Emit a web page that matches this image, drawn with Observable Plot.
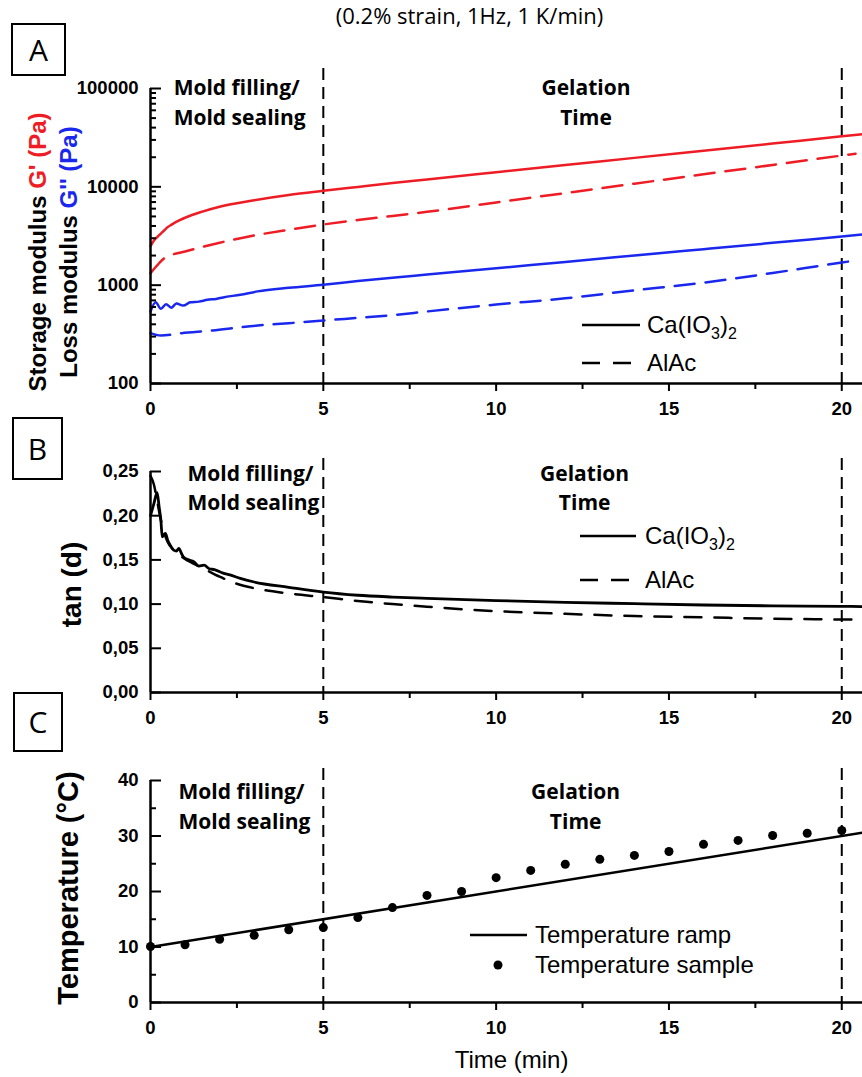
<!DOCTYPE html>
<html><head><meta charset="utf-8">
<script src="https://cdn.jsdelivr.net/npm/d3@7"></script>
<script src="https://cdn.jsdelivr.net/npm/@observablehq/plot@0.6"></script>
<style>
body{margin:0;background:#fff;}
#wrap{position:relative;width:862px;height:1077px;overflow:hidden;background:#fff;color:#000;}
#wrap svg{position:absolute;left:0;overflow:visible;background:transparent;}
.box{position:absolute;border:2.5px solid #000;box-sizing:border-box;font-family:'Open Sans',sans-serif;font-size:30px;line-height:1;display:flex;align-items:center;justify-content:center;z-index:5;}
</style></head><body><div id="wrap"></div>
<script>
// ---------- data ----------
const xTicksMajor = [0, 5, 10, 15, 20];
const xTicksMinor = [2.5, 7.5, 12.5, 17.5];
const phaseLines = [5, 20];

// Panel A: G' and G'' (Pa)
const yTicksA = [100, 1000, 10000, 100000];
const yMinorA = [200,300,400,500,600,700,800,900,2000,3000,4000,5000,6000,7000,8000,9000,20000,30000,40000,50000,60000,70000,80000,90000];
const tGpCa = [0,0.1,0.2,0.3,0.4,0.5,0.6,0.8,1,1.5,2,3,4,5,6,7,8,10,12,14,16,18,20,20.6];
const gpCa  = [2500,2850,3100,3350,3620,3900,4100,4500,4850,5600,6280,7300,8250,9100,9980,10930,11900,14080,16650,19700,23290,27550,32600,34280];
const tGpAl = [0,0.1,0.2,0.3,0.4,0.6,0.8,1,1.5,2,3,4,5,6,7,8,10,12,14,16,18,20,20.4];
const gpAl  = [1320,1460,1600,1750,1880,2030,2120,2200,2450,2700,3200,3660,4140,4600,5050,5570,6940,8640,10770,13410,16700,20800,21700];
const tGppCa = [0,0.15,0.3,0.45,0.6,0.75,0.95,1.15,1.4,1.65,1.9,2.1,2.6,3.1,4,5,6,7,8,10,12,14,16,18,20,20.6];
const gppCa  = [540,670,575,640,590,650,620,670,680,710,725,750,800,865,940,1010,1100,1190,1281,1486,1725,2001,2321,2693,3127,3270];
const tGppAl = [0,0.3,0.9,1.8,2.6,3.1,4,5,6,7,8,10,12,14,16,18,20,20.4];
const gppAl  = [325,307,325,346,373,389,410,437,465,495,540,635,735,885,1060,1330,1700,1780];

// Panel B: tan (d)
const yTicksB = [0, 0.05, 0.10, 0.15, 0.20, 0.25];
const tTanCa = [0,0.1,0.19,0.25,0.3,0.34,0.43,0.5,0.58,0.67,0.75,0.82,0.9,0.96,1.1,1.25,1.4,1.55,1.7,1.85,2.1,2.3,2.6,3,4,5,6,7,8,10,12,14,16,18,20,20.6];
const tanCa  = [0.200,0.214,0.226,0.210,0.195,0.176,0.180,0.172,0.166,0.161,0.160,0.163,0.157,0.153,0.150,0.148,0.143,0.144,0.140,0.139,0.135,0.133,0.129,0.125,0.119,0.1135,0.110,0.108,0.1065,0.104,0.102,0.1005,0.099,0.098,0.0975,0.0972];
const tTanAl = [0,0.1,0.2,0.3,0.4,0.5,0.7,1,1.5,2,2.5,3,4,5,6,7,8,10,12,14,16,18,20,20.6];
const tanAl  = [0.245,0.235,0.215,0.195,0.180,0.170,0.160,0.151,0.141,0.131,0.123,0.118,0.112,0.108,0.1035,0.100,0.097,0.092,0.089,0.0865,0.085,0.0835,0.0826,0.0823];

// Panel C: temperature (°C)
const yTicksC = [0, 10, 20, 30, 40];
const yMinorC = [5, 15, 25, 35];
const rampT = [0, 20.6];
const rampTemp = [10, 30.6];
const sampleT = [0,1,2,3,4,5,6,7,8,9,10,11,12,13,14,15,16,17,18,19,20];
const sampleTemp = [10.1,10.4,11.4,12.1,13.1,13.5,15.3,17.1,19.3,20.0,22.5,23.8,24.9,25.8,26.5,27.2,28.5,29.2,30.1,30.5,31.0];

// annotations
const moldLabel = "Mold filling/\nMold sealing";
const gelLabel = "Gelation\nTime";
const moldT = {A: 0.67, B: 1.07, C: 0.81};
const gelT = {A: 12.6, B: 12.56, C: 12.3};

// ---------- layout ----------
const W = 862, ML = 150, MR = 0;
const xDomain = [0, 20.6];
const pxPerMin = (W - ML - MR) / (xDomain[1] - xDomain[0]);
const RED = "#ee1c24", BLUE = "#1a28ee";
const sans = "'Liberation Sans', Arial, sans-serif";
const calib = "'Open Sans', sans-serif";
const tickFont = {fontSize: 18.5, fontWeight: "bold", fontFamily: sans};
const series = (t, v) => t.map((tt, i) => ({t: tt, v: v[i]}));

function xAxisMarks() {
  return [
    Plot.axisX(xTicksMajor, {tickSize: 8, tickPadding: 10, strokeWidth: 2, label: null, ...tickFont, tickFormat: d => String(d)}),
    Plot.axisX(xTicksMinor, {tickSize: 6, strokeWidth: 2, label: null, tickFormat: () => ""})
  ];
}
const inward = (ticks, len) => Plot.ruleY(ticks, {x1: 0, x2: len / pxPerMin, strokeWidth: 2});

function noteMarks(panel, dy) {
  return [
    Plot.text([moldLabel], {x: [moldT[panel]], frameAnchor: "top", dy, textAnchor: "start", lineAnchor: "middle", lineHeight: 1.4, fontFamily: calib, fontWeight: "bold", fontSize: 21}),
    Plot.text([gelLabel], {x: [gelT[panel]], frameAnchor: "top", dy, textAnchor: "middle", lineAnchor: "middle", lineHeight: 1.4, fontFamily: calib, fontWeight: "bold", fontSize: 21})
  ];
}

function legend(entries, {top, x0, x1, xText}) {
  return () => {
    const g = d3.create("svg:g").attr("font-family", sans).attr("font-size", 24).attr("fill", "black").attr("text-anchor", "start");
    for (const e of entries) {
      const y = e.y - top;
      if (e.kind === "dot") {
        g.append("circle").attr("cx", e.cx).attr("cy", y).attr("r", 4.5).attr("fill", "black");
      } else {
        g.append("line").attr("x1", x0).attr("x2", x1).attr("y1", y).attr("y2", y)
          .attr("stroke", "black").attr("stroke-width", 2.5)
          .attr("stroke-dasharray", e.kind === "dash" ? "18,13" : null);
      }
      const t = g.append("text").attr("x", xText).attr("y", y + 8).attr("text-anchor", "start");
      for (const [s, sub] of e.parts) {
        const ts = t.append("tspan").text(s);
        if (sub === 1) ts.attr("dy", 6).attr("font-size", 16);
        if (sub === -1) ts.attr("dy", -6);
      }
    }
    return g.node();
  };
}
const caParts = [["Ca(IO"], ["3", 1], [")", -1], ["2", 1]];

// ---------- Panel A ----------
const plotA = Plot.plot({
  width: W, height: 415, marginLeft: ML, marginRight: MR, marginTop: 88, marginBottom: 32,
  x: {domain: xDomain, label: null},
  y: {type: "log", domain: [100, 100000], label: null},
  marks: [
    Plot.text(["(0.2% strain, 1Hz, 1 K/min)"], {frameAnchor: "top", dx: -37, dy: -65, lineAnchor: "bottom", fontFamily: calib, fontSize: 22}),
    Plot.ruleX(phaseLines, {strokeWidth: 2, strokeDasharray: "12,7", insetTop: -20}),
    Plot.line(series(tGpCa, gpCa), {x: "t", y: "v", stroke: RED, strokeWidth: 2.5, curve: "monotone-x"}),
    Plot.line(series(tGpAl, gpAl), {x: "t", y: "v", stroke: RED, strokeWidth: 2.5, strokeDasharray: "20,11", curve: "monotone-x"}),
    Plot.line(series(tGppCa, gppCa), {x: "t", y: "v", stroke: BLUE, strokeWidth: 2.5, curve: "monotone-x"}),
    Plot.line(series(tGppAl, gppAl), {x: "t", y: "v", stroke: BLUE, strokeWidth: 2.5, strokeDasharray: "20,11", curve: "monotone-x"}),
    Plot.axisY(yTicksA, {tickSize: 0, tickPadding: 12, label: null, ...tickFont, tickFormat: d => String(d)}),
    inward(yTicksA, 11),
    inward(yMinorA, 6),
    ...xAxisMarks(),
    Plot.ruleX([0], {strokeWidth: 2.5}),
    Plot.ruleY([100], {strokeWidth: 2.5}),
    ...noteMarks("A", 12),
    legend([{kind: "solid", y: 325, parts: caParts}, {kind: "dash", y: 363, parts: [["AlAc"]]}], {top: 0, x0: 582, x1: 640, xText: 647}),
    () => {
      const g = d3.create("svg:g").attr("font-family", sans).attr("font-weight", "bold").attr("font-size", 24).attr("text-anchor", "middle");
      const t1 = g.append("text").attr("transform", "translate(46,252) rotate(-90)");
      t1.append("tspan").text("Storage modulus ");
      t1.append("tspan").attr("fill", RED).text("G' (Pa)");
      const t2 = g.append("text").attr("transform", "translate(77,252) rotate(-90)");
      t2.append("tspan").text("Loss modulus ");
      t2.append("tspan").attr("fill", BLUE).text("G'' (Pa)");
      return g.node();
    }
  ]
});

// ---------- Panel B ----------
const plotB = Plot.plot({
  width: W, height: 315, marginLeft: ML, marginRight: MR, marginTop: 56, marginBottom: 38,
  x: {domain: xDomain, label: null},
  y: {domain: [0, 0.25], label: null},
  marks: [
    Plot.ruleX(phaseLines, {strokeWidth: 2, strokeDasharray: "12,7", insetTop: -13}),
    Plot.line(series(tTanAl, tanAl), {x: "t", y: "v", stroke: "black", strokeWidth: 2.5, strokeDasharray: "17,13", curve: "monotone-x"}),
    Plot.line(series(tTanCa, tanCa), {x: "t", y: "v", stroke: "black", strokeWidth: 2.8, curve: "monotone-x"}),
    Plot.axisY(yTicksB, {tickSize: 0, tickPadding: 12, label: null, ...tickFont, tickFormat: d => d.toFixed(2).replace(".", ",")}),
    inward(yTicksB, 11),
    ...xAxisMarks(),
    Plot.ruleX([0], {strokeWidth: 2.5}),
    Plot.ruleY([0], {strokeWidth: 2.5}),
    ...noteMarks("B", 14.5),
    legend([{kind: "solid", y: 536, parts: caParts}, {kind: "dash", y: 580, parts: [["AlAc"]]}], {top: 415, x0: 580, x1: 636, xText: 645}),
    Plot.text(["tan (d)"], {frameAnchor: "left", dx: -70, dy: 2.5, rotate: -90, textAnchor: "middle", lineAnchor: "bottom", fontFamily: sans, fontWeight: "bold", fontSize: 28})
  ]
});

// ---------- Panel C ----------
const plotC = Plot.plot({
  width: W, height: 347, marginLeft: ML, marginRight: MR, marginTop: 50, marginBottom: 75,
  x: {domain: xDomain, label: null},
  y: {domain: [0, 40], label: null},
  marks: [
    Plot.ruleX(phaseLines, {strokeWidth: 2, strokeDasharray: "12,7", insetTop: -12}),
    Plot.line(series(rampT, rampTemp), {x: "t", y: "v", stroke: "black", strokeWidth: 2.5}),
    Plot.dot(series(sampleT, sampleTemp), {x: "t", y: "v", r: 4.5, fill: "black"}),
    Plot.axisY(yTicksC, {tickSize: 0, tickPadding: 12, label: null, ...tickFont, tickFormat: d => String(d)}),
    inward(yTicksC, 11),
    inward(yMinorC, 6),
    ...xAxisMarks(),
    Plot.ruleX([0], {strokeWidth: 2.5}),
    Plot.ruleY([0], {strokeWidth: 2.5}),
    ...noteMarks("C", 24),
    legend([{kind: "solid", y: 935, parts: [["Temperature ramp"]]}, {kind: "dot", cx: 498, y: 965, parts: [["Temperature sample"]]}], {top: 730, x0: 470, x1: 527, xText: 535}),
    Plot.text(["Temperature (°C)"], {frameAnchor: "left", dx: -73, dy: -3.5, rotate: -90, textAnchor: "middle", lineAnchor: "bottom", fontFamily: sans, fontWeight: "bold", fontSize: 29}),
    Plot.text(["Time (min)"], {frameAnchor: "bottom", dx: 5, dy: 65, lineAnchor: "bottom", fontFamily: sans, fontSize: 24})
  ]
});

const wrap = document.getElementById("wrap");
plotA.style.top = "0px"; plotB.style.top = "415px"; plotC.style.top = "730px";
wrap.append(plotA, plotB, plotC);

const boxes = [["A", 11, 23, 55, 53], ["B", 12, 417, 51, 63], ["C", 13, 692, 50, 60]];
for (const [lbl, l, t, w, h] of boxes) {
  const b = document.createElement("div");
  b.className = "box";
  Object.assign(b.style, {left: l + "px", top: t + "px", width: w + "px", height: h + "px"});
  b.textContent = lbl;
  wrap.append(b);
}
</script></body></html>
